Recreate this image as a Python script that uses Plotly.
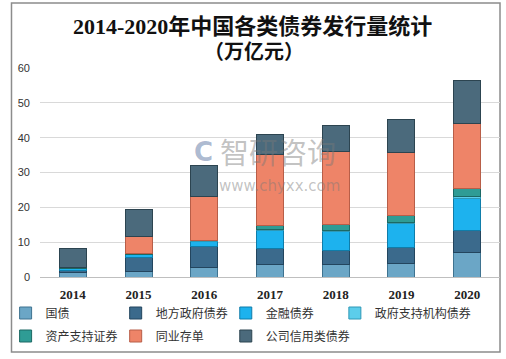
import plotly.graph_objects as go

years = ["2014", "2015", "2016", "2017", "2018", "2019", "2020"]
series_names = ["国债", "地方政府债券", "金融债券", "政府支持机构债券", "资产支持证券", "同业存单", "公司信用类债券"]
guozhai = [1.4, 1.7, 2.7, 3.7, 3.5, 3.9, 7.0]
difang = [0.4, 3.9, 6.2, 4.5, 4.1, 4.5, 6.3]
jinrong = [0.5, 0.8, 1.3, 5.1, 5.5, 7.0, 9.2]
zhengfu = [0.1, 0.1, 0.2, 0.2, 0.2, 0.2, 0.5]
zichan = [0.2, 0.2, 0.2, 1.4, 1.7, 2.0, 2.3]
tongye = [0.0, 5.0, 12.6, 20.2, 20.9, 18.0, 18.9]
gongsi = [5.6, 7.7, 8.9, 5.9, 7.6, 9.6, 12.1]
y_ticks = [0, 10, 20, 30, 40, 50, 60]
title_line1 = "2014-2020年中国各类债券发行量统计"
title_line2 = "（万亿元）"

values = [guozhai, difang, jinrong, zhengfu, zichan, tongye, gongsi]
colors = ["#6BA6C6", "#3B6A8C", "#1DB2EE", "#5CCDEB", "#2F9C95", "#EE8468", "#4B6A7C"]
edges = ["#3F7390", "#23455E", "#0F7DAA", "#2E98B6", "#1C6964", "#B85E48", "#2C4450"]

W, H = 506, 359
L, R, T, B = 32, 6, 68, 82
pw, ph = W - L - R, H - T - B

def px(x):
    return (x - L) / pw

def py(y):
    return (H - B - y) / ph

# legend slot positions (pixels: left edge of legend box, row center)
legend_slots = [(-3, 313), (109, 313), (221, 313), (332, 313),
                (-3, 336), (109, 336), (221, 336)]

fig = go.Figure()
layout_legends = {}
for i, (name, vals, c, e) in enumerate(zip(series_names, values, colors, edges)):
    key = "legend" if i == 0 else f"legend{i + 1}"
    fig.add_trace(go.Bar(
        x=years, y=vals, name=name, legend=key,
        marker=dict(color=c, line=dict(color=e, width=1)),
    ))
    lx, ly = legend_slots[i]
    layout_legends[key] = dict(
        xref="paper", yref="paper",
        x=px(lx), xanchor="left",
        y=py(ly), yanchor="middle",
        orientation="h",
        bgcolor="rgba(0,0,0,0)",
        font=dict(family="Noto Sans CJK SC", size=12, color="#333333"),
    )

fig.update_layout(
    width=W, height=H,
    margin=dict(l=L, r=R, t=T, b=B),
    barmode="stack",
    bargap=0.59,
    paper_bgcolor="white",
    plot_bgcolor="white",
    xaxis=dict(
        type="category",
        tickfont=dict(family="Liberation Serif, DejaVu Serif", size=13, color="#222222", weight="bold"),
        showline=True, linecolor="#BFBFBF", linewidth=1,
        ticks="", showgrid=False, ticklabelstandoff=5,
    ),
    yaxis=dict(
        range=[0, 60], tickvals=y_ticks,
        tickfont=dict(family="Liberation Sans, Noto Sans CJK SC", size=11, color="#333333"),
        showgrid=True, gridcolor="#D9D9D9", gridwidth=1,
        zeroline=False, showline=False, ticks="", ticklabelstandoff=9,
    ),
    showlegend=True,
    **layout_legends,
)

# outer frame
fig.add_shape(
    type="rect", xref="paper", yref="paper",
    x0=px(3), x1=px(500), y0=py(352), y1=py(3),
    line=dict(color="#8C8C8C", width=1.5), fillcolor="rgba(0,0,0,0)", layer="below",
)

# title lines
fig.add_annotation(
    text=title_line1, xref="paper", yref="paper",
    x=px(248), y=py(26), xanchor="center", yanchor="middle", showarrow=False,
    font=dict(family="Liberation Serif, Noto Sans CJK SC", size=22, color="#111111", weight="bold"),
)
fig.add_annotation(
    text=title_line2, xref="paper", yref="paper",
    x=px(250), y=py(52), xanchor="center", yanchor="middle", showarrow=False,
    font=dict(family="Liberation Serif, Noto Sans CJK SC", size=20, color="#111111", weight="bold"),
)

# watermark
fig.add_annotation(
    text="智研咨询", xref="paper", yref="paper",
    x=px(213), y=py(151), xanchor="left", yanchor="middle",
    showarrow=False,
    font=dict(family="Noto Sans CJK SC", size=29, color="rgba(120,120,120,0.45)"),
)
fig.add_annotation(
    text="www.chyxx.com", xref="paper", yref="paper",
    x=px(212), y=py(186), xanchor="left", yanchor="middle",
    showarrow=False,
    font=dict(family="DejaVu Sans", size=15, color="rgba(120,120,120,0.45)"),
)
fig.add_annotation(
    text="<b>C</b>", xref="paper", yref="paper",
    x=px(198), y=py(152), xanchor="center", yanchor="middle",
    showarrow=False,
    font=dict(family="DejaVu Sans", size=26, color="rgba(70,100,150,0.45)"),
)

fig.write_html(
    "out.html",
    config={"displayModeBar": False},
    post_script="document.body.style.margin='0';",
)
